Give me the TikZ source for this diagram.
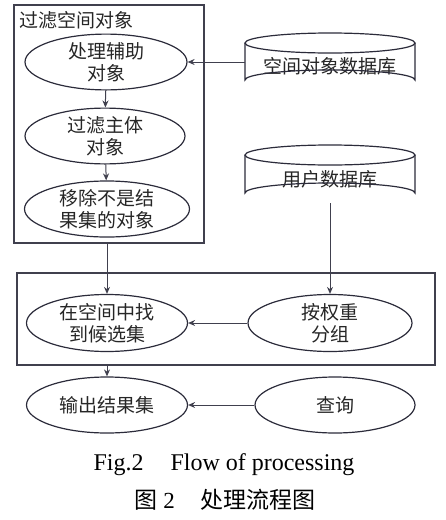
\documentclass[tikz,border=0pt]{standalone}
\usepackage{fontspec}
\setmainfont{Liberation Serif}
\newfontfamily\cjk{Noto Sans CJK SC}
\usetikzlibrary{shapes.geometric,arrows.meta}
\definecolor{linec}{HTML}{2B2B3A}
\tikzset{
  x=1pt,y=-1pt,
  proc/.style={ellipse,draw=linec,line width=1.2pt,inner sep=0pt,align=center,
    font=\cjk\fontsize{19}{22}\selectfont,text=black!85},
  frame/.style={draw=linec!90,line width=1.5pt,inner sep=0pt},
  dbtext/.style={inner sep=0pt,font=\cjk\fontsize{19}{22}\selectfont,text=black!85},
  cyl/.style={draw=linec,line width=1.2pt},
  arr/.style={draw=linec!90,line width=1pt,-{Stealth[length=7pt,width=6pt]}},
}
\begin{document}
\begin{tikzpicture}
\useasboundingbox (0,0) rectangle (445,520);
% frames
\node[frame,minimum width=190,minimum height=238] (box1) at (109,124) {};
\node[anchor=west,inner sep=0pt,font=\cjk\fontsize{19}{22}\selectfont,text=black!85] (title) at (19,20) {过滤空间对象};
\node[frame,minimum width=418,minimum height=92] (box2) at (226,319) {};
% process ellipses
\node[proc,minimum width=162,minimum height=55] (e1) at (106,62) {处理辅助\\对象};
\node[proc,minimum width=160,minimum height=55] (e2) at (105,136) {过滤主体\\对象};
\node[proc,minimum width=165,minimum height=55] (e3) at (107,209) {移除不是结\\果集的对象};
\node[proc,minimum width=161,minimum height=57] (e4) at (107,323) {在空间中找\\到候选集};
\node[proc,minimum width=164,minimum height=57] (e5) at (330,323) {按权重\\分组};
\node[proc,minimum width=161,minimum height=56] (e6) at (107,405) {输出结果集};
\node[proc,minimum width=160,minimum height=56] (e7) at (335,405) {查询};
% databases
\node[dbtext,minimum width=170,minimum height=47] (db1) at (330,66.5) {\raisebox{-4pt}{空间对象数据库}};
\draw[cyl] (245,43) -- (245,80) arc[start angle=180,end angle=360,x radius=85,y radius=10] -- (415,43);
\draw[cyl] (330,43) ellipse[x radius=85,y radius=10];
\node[dbtext,minimum width=170,minimum height=48] (db2) at (330,179) {\raisebox{-4pt}{用户数据库}};
\draw[cyl] (245,155) -- (245,193) arc[start angle=180,end angle=360,x radius=85,y radius=10] -- (415,155);
\draw[cyl] (330,155) ellipse[x radius=85,y radius=10];
% connectors
\draw[arr] (db1.west |- e1) -- (e1.east);
\draw[arr] (e1) -- (e2);
\draw[arr] (e2) -- (e3);
\draw[arr] (e4 |- box1.south) -- (e4.north);
\draw[arr] (db2.south) -- (e5.north);
\draw[arr] (e5) -- (e4);
\draw[arr] (e6 |- box2.south) -- (e6.north);
\draw[arr] (e7) -- (e6);
% caption
\node[inner sep=0pt,font=\fontsize{24}{28}\selectfont] (cap1) at (224,465) {Fig.2\hspace{27pt}Flow of processing};
\node[inner sep=0pt,font=\fontsize{23}{28}\selectfont] (cap2) at (225,500) {{\cjk 图}\hspace{6pt}2\hspace{26pt}{\cjk 处理流程图}};
\end{tikzpicture}
\end{document}
